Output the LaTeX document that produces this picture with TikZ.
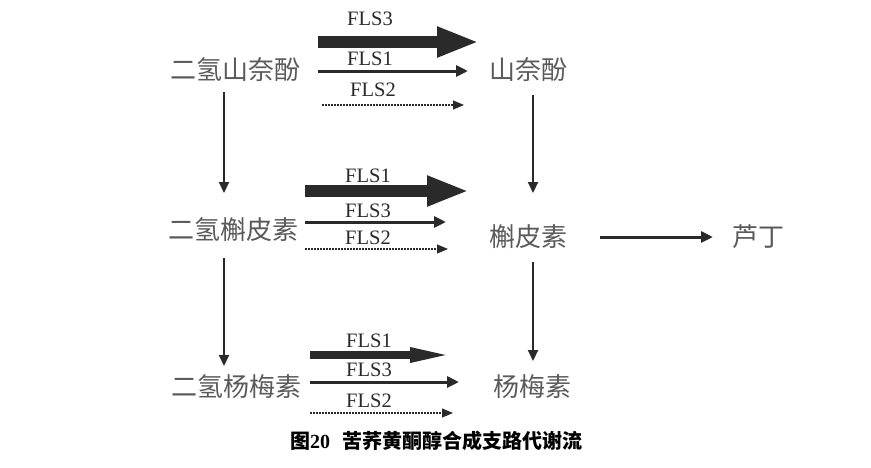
\documentclass[tikz,border=0pt]{standalone}
\usepackage{fontspec}
\setmainfont{Liberation Serif}
\newfontfamily\cjk{Noto Sans CJK SC}
\usetikzlibrary{arrows.meta}
\definecolor{txtgray}{HTML}{5A5A5A}
\definecolor{arrgray}{HTML}{2A2A2A}
\tikzset{
  cn/.style={font=\cjk\fontsize{26}{26}\selectfont, text=txtgray, inner sep=0pt},
  lbl/.style={font=\fontsize{20.5}{20.5}\selectfont, text=arrgray, inner sep=0pt},
  bigarrow/.style={draw=arrgray, line width=12pt, -{Triangle[length=42pt,width=28pt]}},
  midarrow/.style={draw=arrgray, line width=3pt, -{Triangle[length=12pt,width=11pt]}},
  taparrow/.style={draw=arrgray, line width=8pt, -{Triangle[length=46pt,width=13pt]}},
  dotarrow/.style={draw=arrgray, line width=1.1pt, dash pattern=on 1.6pt off 1.4pt, -{Triangle[length=11pt,width=9pt]}},
  vline/.style={draw=arrgray, line width=2pt, -{Triangle[length=11pt,width=10pt]}},
}
\begin{document}
\begin{tikzpicture}[x=1pt,y=-1pt]
\useasboundingbox (0,0) rectangle (871,467);
% nodes
\node[cn] (dk) at (235,70) {二氢山奈酚};
\node[cn] (k)  at (528,70) {山奈酚};
\node[cn] (dq) at (233,230) {二氢槲皮素};
\node[cn] (q)  at (528,237) {槲皮素};
\node[cn] (r)  at (758,237) {芦丁};
\node[cn] (dm) at (236,387) {二氢杨梅素};
\node[cn] (m)  at (532,387) {杨梅素};
\node[font=\cjk\bfseries\fontsize{20}{20}\selectfont, inner sep=0pt] (cap) at (436,441) {图{\rmfamily\bfseries 20}\hspace{0.6em}苦荞黄酮醇合成支路代谢流};
% arrow endpoints
\coordinate (a1s) at (318,42);  \coordinate (a1e) at (479,42);
\coordinate (a2s) at (318,71);  \coordinate (a2e) at (468,71);
\coordinate (a3s) at (322,105); \coordinate (a3e) at (464,105);
\coordinate (b1s) at (305,191); \coordinate (b1e) at (469,191);
\coordinate (b2s) at (305,222); \coordinate (b2e) at (446,222);
\coordinate (b3s) at (305,249); \coordinate (b3e) at (448,249);
\coordinate (c1s) at (310,355); \coordinate (c1e) at (456,355);
\coordinate (c2s) at (310,382); \coordinate (c2e) at (459,382);
\coordinate (c3s) at (310,413); \coordinate (c3e) at (453,413);
\coordinate (v1s) at (224,92);  \coordinate (v1e) at (224,193);
\coordinate (v2s) at (224,258); \coordinate (v2e) at (224,366);
\coordinate (v3s) at (533,95);  \coordinate (v3e) at (533,193);
\coordinate (v4s) at (533,262); \coordinate (v4e) at (533,361);
\coordinate (hs) at (600,237);  \coordinate (he) at (713,237);
% horizontal arrows
\draw[bigarrow] (a1s) -- (a1e);
\draw[midarrow] (a2s) -- (a2e);
\draw[dotarrow] (a3s) -- (a3e);
\draw[bigarrow] (b1s) -- (b1e);
\draw[midarrow] (b2s) -- (b2e);
\draw[dotarrow] (b3s) -- (b3e);
\draw[taparrow] (c1s) -- (c1e);
\draw[midarrow] (c2s) -- (c2e);
\draw[dotarrow] (c3s) -- (c3e);
% labels
\node[lbl] (l1) at (370,19) {FLS3};
\node[lbl] (l2) at (370,59) {FLS1};
\node[lbl] (l3) at (373,90) {FLS2};
\node[lbl] (l4) at (368,176) {FLS1};
\node[lbl] (l5) at (368,211) {FLS3};
\node[lbl] (l6) at (368,238) {FLS2};
\node[lbl] (l7) at (369,341) {FLS1};
\node[lbl] (l8) at (369,370) {FLS3};
\node[lbl] (l9) at (369,401) {FLS2};
% vertical arrows
\draw[vline] (v1s) -- (v1e);
\draw[vline] (v2s) -- (v2e);
\draw[vline] (v3s) -- (v3e);
\draw[vline] (v4s) -- (v4e);
\draw[midarrow] (hs) -- (he);
\end{tikzpicture}
\end{document}
